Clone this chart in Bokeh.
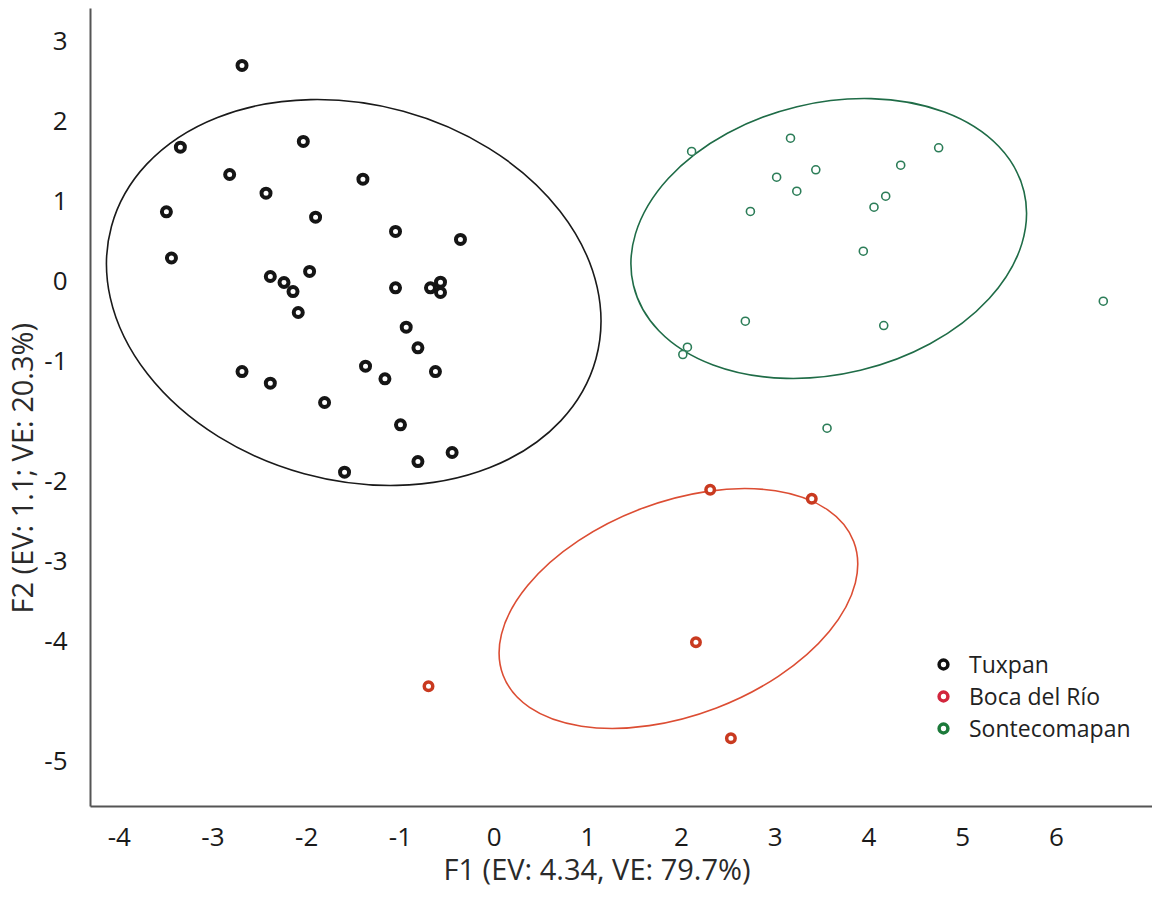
import numpy as np
from bokeh.plotting import figure
from bokeh.models import Range1d, FixedTicker, Legend, LegendItem, Title
from bokeh.embed import file_html
from bokeh.resources import INLINE

# ---------------- data ----------------
tux_x = [-2.690, -3.348, -2.036, -2.822, -2.434, -1.400, -3.497, -1.905, -1.052, -0.359,
         -3.443, -2.388, -2.242, -2.146, -1.969, -2.090, -1.052, -0.679, -0.572, -0.572,
         -0.938, -0.813, -1.372, -1.165, -0.626, -2.690, -2.388, -1.809, -0.999, -0.448,
         -0.813, -1.596]
tux_y = [2.688, 1.666, 1.738, 1.325, 1.091, 1.266, 0.859, 0.791, 0.613, 0.513,
         0.281, 0.050, -0.025, -0.138, 0.113, -0.400, -0.091, -0.091, -0.021, -0.150,
         -0.584, -0.841, -1.071, -1.229, -1.138, -1.138, -1.284, -1.525, -1.804, -2.150,
         -2.263, -2.396]

boca_x = [2.306, 3.390, 2.154, -0.700, 2.527]
boca_y = [-2.616, -2.729, -4.521, -5.071, -5.721]

sonte_x = [2.108, 3.163, 3.015, 3.433, 3.230, 2.735, 4.744, 4.339, 4.179, 4.054,
           3.940, 6.501, 2.681, 4.158, 2.063, 2.014, 3.553]
sonte_y = [1.613, 1.779, 1.291, 1.384, 1.116, 0.863, 1.659, 1.441, 1.054, 0.916,
           0.366, -0.259, -0.509, -0.563, -0.834, -0.925, -1.846]

# confidence ellipses: centre, full width (F1 units), full height (F2 units), tilt (rad)
ell_names = ["Tuxpan", "Boca del Río", "Sontecomapan"]
ell_cx = [-1.498, 1.967, 3.571]
ell_cy = [-0.150, -4.100, 0.525]
ell_w = [5.360, 4.004, 4.286]
ell_h = [4.698, 2.663, 3.390]
ell_angle = [-0.267, 0.365, 0.236]

x_ticks = [-4, -3, -2, -1, 0, 1, 2, 3, 4, 5, 6]
x_tick_labels = ["-4", "-3", "-2", "-1", "0", "1", "2", "3", "4", "5", "6"]
y_tick_values = [3.0, 2.0, 1.0, 0.0, -1.0, -2.5, -3.5, -4.5, -6.0]
y_tick_labels = ["3", "2", "1", "0", "-1", "-2", "-3", "-4", "-5"]

x_title = "F1 (EV: 4.34, VE: 79.7%)"
y_title = "F2 (EV: 1.1; VE: 20.3%)"

# ---------------- style ----------------
FONT = "Open Sans"
col_tux = "#151515"
col_boca = "#c93a20"
col_sonte = "#2c7d58"
ell_cols = ["#1a1a1a", "#dc4d33", "#1f6c47"]
leg_cols = ["#111111", "#d2263d", "#1c7a3a"]

p = figure(width=1152, height=898,
           x_range=Range1d(-4.307, 7.026), y_range=Range1d(-6.575, 3.4),
           output_backend="svg", toolbar_location=None,
           min_border_left=89, min_border_bottom=92, min_border_top=8, min_border_right=0)
p.outline_line_color = None
p.xgrid.visible = False
p.ygrid.visible = False
p.background_fill_color = "white"
p.border_fill_color = "white"

for ax in (p.xaxis[0], p.yaxis[0]):
    ax.major_tick_line_color = None
    ax.minor_tick_line_color = None
    ax.axis_line_color = "#555555"
    ax.axis_line_width = 2
    ax.major_label_text_font = FONT
    ax.major_label_text_font_size = "26px"
    ax.major_label_text_color = "#1a1a1a"

p.xaxis[0].ticker = FixedTicker(ticks=x_ticks)
p.xaxis[0].major_label_overrides = {v: l for v, l in zip(x_ticks, x_tick_labels)}
p.xaxis[0].major_label_standoff = 15
p.yaxis[0].ticker = FixedTicker(ticks=y_tick_values)
p.yaxis[0].major_label_overrides = {v: l for v, l in zip(y_tick_values, y_tick_labels)}
p.yaxis[0].major_label_standoff = 17

# ellipses
for cx, cy, w, h, a, c in zip(ell_cx, ell_cy, ell_w, ell_h, ell_angle, ell_cols):
    p.ellipse(x=[cx], y=[cy], width=[w], height=[h], angle=[a],
              fill_color=None, line_color=c, line_width=1.6)

# points
p.scatter(tux_x, tux_y, marker="circle", size=9, line_width=4,
          line_color=col_tux, fill_color="white")
p.scatter(boca_x, boca_y, marker="circle", size=8.5, line_width=3.5,
          line_color=col_boca, fill_color="white")
p.scatter(sonte_x, sonte_y, marker="circle", size=8, line_width=1.6,
          line_color=col_sonte, fill_color="white")

# legend (legend-only renderers carry the legend styling)
leg_items = []
for name, c in zip(ell_names, leg_cols):
    r = p.scatter(np.array([np.nan]), np.array([np.nan]), marker="circle", size=9,
                  line_width=3.5, line_color=c, fill_color="white")
    leg_items.append(LegendItem(label=name, renderers=[r]))

legend = Legend(items=leg_items, location=(842, 62), orientation="vertical",
                glyph_width=22, glyph_height=28, label_height=28, spacing=0,
                padding=0, margin=0, label_standoff=15,
                border_line_color=None, background_fill_alpha=0,
                label_text_font=FONT, label_text_font_size="23px",
                label_text_color="#222222")
p.add_layout(legend)

# axis titles
p.add_layout(Title(text=x_title, align="left", offset=353, vertical_align="top", standoff=0,
                   text_font=FONT, text_font_size="29px", text_font_style="normal",
                   text_color="#2a2a2a"), "below")
p.add_layout(Title(text=y_title, align="left", offset=193, vertical_align="middle", standoff=0,
                   text_font=FONT, text_font_size="29px", text_font_style="normal",
                   text_color="#2a2a2a"), "left")

open("out.html", "w").write(file_html(p, INLINE))
